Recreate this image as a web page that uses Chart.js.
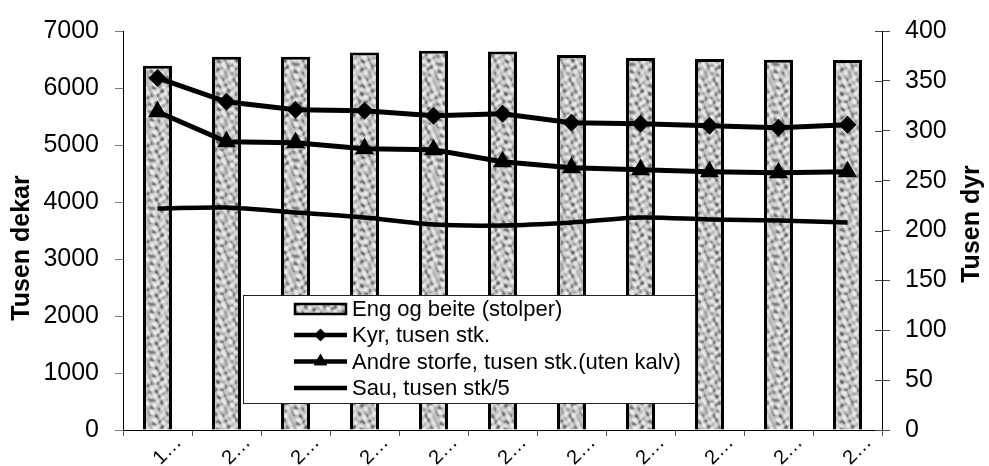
<!DOCTYPE html>
<html>
<head>
<meta charset="utf-8">
<script src="https://cdn.jsdelivr.net/npm/chart.js@4.4.1/dist/chart.umd.min.js"></script>
<style>
  html, body { margin: 0; padding: 0; background: #fff; }
</style>
</head>
<body>
<canvas id="chart" width="989" height="466"></canvas>
<script>
// Data
const yearLabels = ["1…", "2…", "2…", "2…", "2…", "2…", "2…", "2…", "2…", "2…", "2…"];
const engOgBeite = [6390, 6550, 6550, 6625, 6655, 6640, 6580, 6525, 6510, 6495, 6490];
const kyr = [353, 329, 321, 320, 315, 317, 308, 307, 305, 303, 306];
const andreStorfe = [319, 289, 288, 282, 281, 269, 263, 261, 259, 258, 259];
const sau = [222, 223, 218, 213, 206, 205, 208, 213, 211, 210, 208];

const seriesNames = [
  "Eng og beite (stolper)",
  "Kyr, tusen stk.",
  "Andre storfe, tusen stk.(uten kalv)",
  "Sau, tusen stk/5"
];
const leftTitle = "Tusen dekar";
const rightTitle = "Tusen dyr";

const FONT = "'Liberation Sans', Arial, sans-serif";

// grey mottled fill for the bars (blotchy, like the old spreadsheet texture)
function makeTexture() {
  const n = 48;
  const c = document.createElement("canvas");
  c.width = n; c.height = n;
  const g = c.getContext("2d");
  const img = g.createImageData(n, n);
  const a = 2 * Math.PI / n;
  for (let y = 0; y < n; y++) {
    for (let x = 0; x < n; x++) {
      let v = Math.sin(x * a * 5 + 1.3 + Math.sin(y * a * 2) * 1.5) +
              0.9 * Math.sin((x + 2 * y) * a * 3 + 2.1 + Math.cos(x * a * 2) * 1.2) +
              0.8 * Math.cos((2 * x - y) * a * 4 + 0.7) +
              0.6 * Math.sin((x - 3 * y) * a * 2 + 1.9) +
              0.5 * Math.cos(y * a * 7 + Math.sin(x * a * 3) * 2);
      let shade = 196 + v * 20;
      if (v < -1.3) shade -= 28;
      shade = Math.round(Math.max(100, Math.min(235, shade)));
      const i = (y * n + x) * 4;
      img.data[i] = shade; img.data[i + 1] = shade; img.data[i + 2] = shade; img.data[i + 3] = 255;
    }
  }
  g.putImageData(img, 0, 0);
  return g.createPattern(c, "repeat");
}

const ctx = document.getElementById("chart").getContext("2d");
const texture = makeTexture();

const extras = {
  id: "extras",
  afterDraw(chart) {
    const c = chart.ctx;
    const area = chart.chartArea;
    c.save();

    // right axis ticks cross into the plot
    const y1 = chart.scales.y1;
    c.strokeStyle = "#444";
    c.lineWidth = 1;
    y1.ticks.forEach((t, i) => {
      const py = Math.round(y1.getPixelForTick(i)) + 0.5;
      c.beginPath();
      c.moveTo(area.right - 7, py);
      c.lineTo(area.right, py);
      c.stroke();
    });

    c.fillStyle = "#000";
    c.font = "bold 25px " + FONT;
    c.textAlign = "center";
    c.textBaseline = "middle";
    c.save();
    c.translate(22, 248);
    c.rotate(-Math.PI / 2);
    c.fillText(leftTitle, 0, 0);
    c.restore();
    c.save();
    c.translate(972, 224);
    c.rotate(-Math.PI / 2);
    c.fillText(rightTitle, 0, 0);
    c.restore();

    // legend box inside the plot
    const bx = 243, by = 295, bw = 452, bh = 108;
    c.fillStyle = "#fff";
    c.fillRect(bx, by, bw, bh);
    c.strokeStyle = "#222";
    c.lineWidth = 1;
    c.strokeRect(bx + 0.5, by + 0.5, bw, bh);

    const rows = [309, 335, 361.5, 388];
    const sx = 294, ex = 347;
    c.font = "22px " + FONT;
    c.textAlign = "left";
    c.textBaseline = "middle";
    chart.data.datasets.forEach((ds, i) => {
      const y = rows[i];
      if (ds.type === "bar") {
        c.fillStyle = texture;
        c.fillRect(sx, y - 6, ex - sx, 12);
        c.strokeStyle = "#000";
        c.lineWidth = 2.5;
        c.strokeRect(sx + 1, y - 5, ex - sx - 2, 10);
      } else {
        c.strokeStyle = "#000";
        c.lineWidth = 4.5;
        c.beginPath();
        c.moveTo(sx, y);
        c.lineTo(ex, y);
        c.stroke();
        if (ds.pointRadius > 0) {
          c.fillStyle = "#000";
          Chart.helpers.drawPoint(c, { pointStyle: ds.pointStyle, radius: ds.pointRadius * 0.7, borderWidth: 0 }, (sx + ex) / 2, y);
          c.fill();
        }
      }
      c.fillStyle = "#000";
      c.fillText(seriesNames[i], 352, y + 1);
    });
    c.restore();
  }
};

new Chart(ctx, {
  data: {
    labels: yearLabels,
    datasets: [
      {
        type: "bar",
        label: seriesNames[0],
        data: engOgBeite,
        yAxisID: "y",
        backgroundColor: texture,
        borderColor: "#000",
        borderWidth: 3,
        barPercentage: 0.42,
        categoryPercentage: 1,
        order: 4
      },
      {
        type: "line",
        label: seriesNames[1],
        data: kyr,
        yAxisID: "y1",
        borderColor: "#000",
        backgroundColor: "#000",
        borderWidth: 5,
        pointStyle: "rectRot",
        pointRadius: 9,
        pointBorderWidth: 0,
        tension: 0,
        order: 1
      },
      {
        type: "line",
        label: seriesNames[2],
        data: andreStorfe,
        yAxisID: "y1",
        borderColor: "#000",
        backgroundColor: "#000",
        borderWidth: 5,
        pointStyle: "triangle",
        pointRadius: 11,
        pointBorderWidth: 0,
        tension: 0,
        order: 2
      },
      {
        type: "line",
        label: seriesNames[3],
        data: sau,
        yAxisID: "y1",
        borderColor: "#000",
        borderWidth: 4.5,
        pointRadius: 0,
        tension: 0.3,
        order: 3
      }
    ]
  },
  options: {
    responsive: false,
    animation: false,
    layout: { padding: { top: 24, left: 0, right: 0, bottom: 0 } },
    plugins: {
      legend: { display: false },
      tooltip: { enabled: false }
    },
    scales: {
      x: {
        afterFit(scale) { scale.height = 36; },
        grid: { drawOnChartArea: false, tickLength: 6, color: "#555", offset: true },
        border: { color: "#000", width: 1 },
        ticks: {
          color: "#000",
          font: { family: FONT, size: 20 },
          minRotation: 45,
          maxRotation: 45,
          autoSkip: false,
          labelOffset: 21,
          padding: -5
        }
      },
      y: {
        position: "left",
        min: 0,
        max: 7000,
        afterFit(scale) { scale.width = 123; },
        grid: { drawOnChartArea: false, tickLength: 8, color: "#777" },
        border: { color: "#000", width: 1 },
        ticks: {
          stepSize: 1000,
          color: "#000",
          padding: 16,
          font: { family: FONT, size: 25 },
          callback: (v) => String(v)
        }
      },
      y1: {
        position: "right",
        min: 0,
        max: 400,
        afterFit(scale) { scale.width = 107; },
        grid: { drawOnChartArea: false, tickLength: 8, color: "#444" },
        border: { color: "#000", width: 1 },
        ticks: {
          stepSize: 50,
          color: "#000",
          padding: 15,
          font: { family: FONT, size: 25 },
          callback: (v) => String(v)
        }
      }
    }
  },
  plugins: [extras]
});
</script>
</body>
</html>
